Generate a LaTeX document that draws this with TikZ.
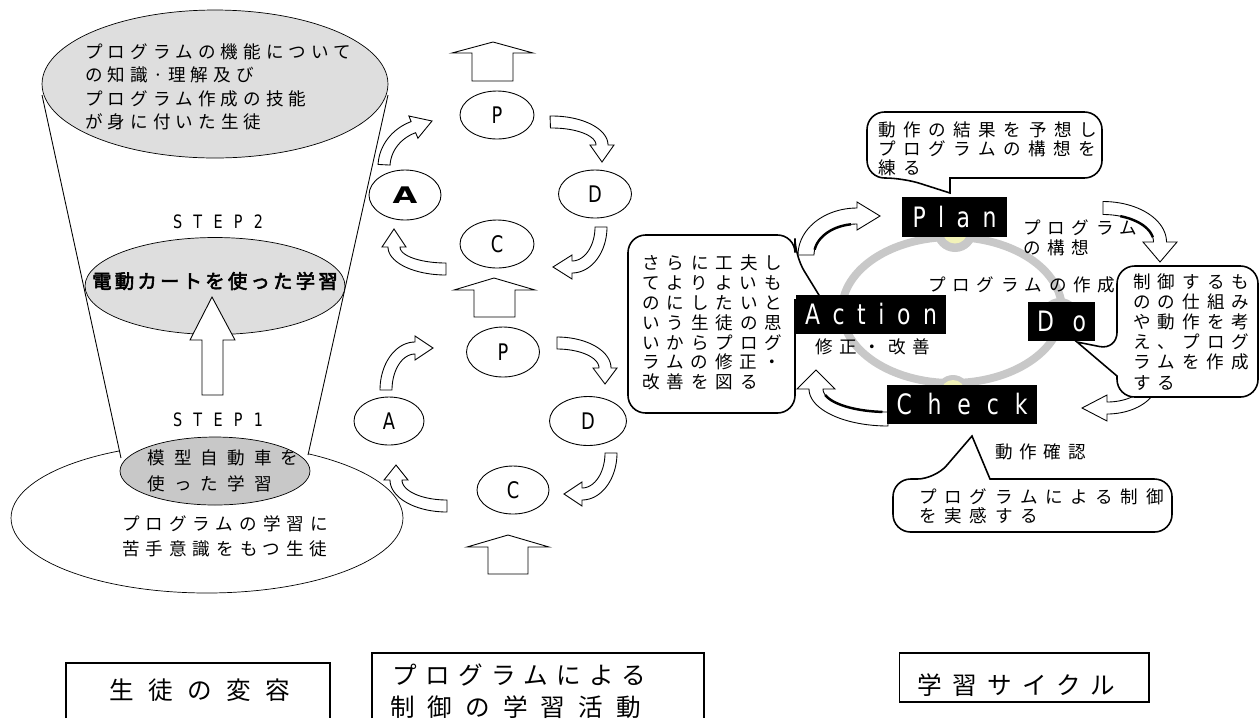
\documentclass[tikz,border=0pt]{standalone}
\usepackage{fontspec}
\usepackage{graphicx}
\usetikzlibrary{shapes.geometric}
\newfontfamily\jp{Noto Sans CJK JP}
\newfontfamily\jpb[FakeBold=3]{Noto Sans CJK JP}
\newfontfamily\nar[FakeStretch=0.78]{DejaVu Sans}
\newfontfamily\dv{DejaVu Sans}
\newcommand\jf[3]{\jp\fontsize{#1}{#2}\selectfont\addfontfeature{LetterSpace=#3}}
\newcommand\carr[9]{%
 \filldraw[arr] plot[domain=#5:#6,samples=25] ({#1+(#3+#8)*cos(\x)},{#2+(#4+#8)*sin(\x)})
   -- ({#1+(#3+#9)*cos(#6)},{#2+(#4+#9)*sin(#6)}) -- #7
   -- ({#1+(#3-#9)*cos(#6)},{#2+(#4-#9)*sin(#6)})
   -- plot[domain=#6:#5,samples=25] ({#1+(#3-#8)*cos(\x)},{#2+(#4-#8)*sin(\x)}) -- cycle;}
\newcommand\cinner[6]{%
 \draw[line width=1.4pt] plot[domain=#5:#6,samples=25] ({#1+(#3)*cos(\x)},{#2+(#4)*sin(\x)});}
\definecolor{lg}{HTML}{DEDEDE}
\definecolor{mg}{HTML}{C8C8C8}
\definecolor{ringc}{HTML}{C8C8C8}
\definecolor{kyel}{HTML}{F2F2B8}
\tikzset{
 jt/.style={inner sep=0, align=left, anchor=west},
 cyc/.style={draw, ellipse, inner sep=0, line width=0.5pt, font=\nar\fontsize{13}{13}\selectfont},
 blk/.style={fill=black, text=white, inner sep=0, font=\nar\fontsize{16}{16}\selectfont},
 call/.style={draw, fill=white, line width=0.9pt},
 arr/.style={draw, fill=white, line width=0.5pt},
 ubar/.style={draw, fill=white, line width=0.5pt},
 lab/.style={draw, line width=0.6pt}
}
\begin{document}
\begin{tikzpicture}[x=0.02cm,y=-0.02cm]
\useasboundingbox (0,0) rectangle (1260,718);
% ---------------- left: student change ----------------
\node[draw, fill=white, ellipse, inner sep=0, minimum width=7.84cm, minimum height=3cm] (base) at (207,518) {};
\coordinate (cl1) at (42,95); \coordinate (cl2) at (121,458);
\coordinate (cr1) at (388,95); \coordinate (cr2) at (308,455);
\fill[white] (cl1) -- (cl2) -- (215,480) -- (cr2) -- (cr1) -- cycle;
\draw[line width=0.5pt] (cl1) -- (cl2);
\draw[line width=0.5pt] (cr1) -- (cr2);
\node[draw, fill=lg, ellipse, inner sep=0, minimum width=6.92cm, minimum height=2.96cm] (top) at (215,84) {};
\node[draw, fill=lg, ellipse, inner sep=0, minimum width=5.2cm, minimum height=1.94cm] (s2) at (215,286) {};
\node[draw, fill=mg, ellipse, inner sep=0, minimum width=3.8cm, minimum height=1.36cm] (s1) at (215,471) {};
\draw[ubar] (202,395) -- (202,340) -- (190,340) -- (212,297) -- (235,340) -- (223,340) -- (223,395) -- cycle;
\node[jt, font=\jf{10}{13.4}{29}] (toptxt) at (85,87) {プログラムの機能について\\の知識·理解及び\\プログラム作成の技能\\が身に付いた生徒};
\node[inner sep=0, font=\nar\fontsize{10.5}{10.5}\selectfont] (step2) at (218,222) {\makebox[1.8cm][s]{S\hfill T\hfill E\hfill P\hfill 2}};
\node[inner sep=0, font=\jpb\fontsize{11}{11}\selectfont\addfontfeature{LetterSpace=17}] (s2txt) at (215,281) {電動カートを使った学習};
\node[inner sep=0, font=\nar\fontsize{10.5}{10.5}\selectfont] (step1) at (218,420) {\makebox[1.8cm][s]{S\hfill T\hfill E\hfill P\hfill 1}};
\node[jt, font=\jf{10}{14.6}{52}] (s1txt) at (147,471) {模型自動車を\\使った学習};
\node[jt, font=\jf{10}{14.2}{34}] (basetxt) at (122,536) {プログラムの学習に\\苦手意識をもつ生徒};
% ---------------- middle: PDCA ----------------
\draw[ubar] (472,81) -- (472,53) -- (452,53) -- (493,42) -- (533,53) -- (513,53) -- (513,81) -- cycle;
\draw[ubar] (474,317) -- (474,290) -- (454,290) -- (494,278) -- (535,290) -- (515,290) -- (515,317) -- cycle;
\draw[ubar] (488,574) -- (488,547) -- (467,547) -- (508,535) -- (549,547) -- (528,547) -- (528,574) -- cycle;
\node[cyc, minimum width=1.48cm, minimum height=0.96cm] (P1) at (497,115) {P};
\node[cyc, minimum width=1.44cm, minimum height=1.0cm] (A1) at (405,195) {\dv\bfseries\fontsize{13}{13}\selectfont\scalebox{1.4}[1]{A}};
\node[cyc, minimum width=1.46cm, minimum height=0.96cm] (D1) at (595,194) {D};
\node[cyc, minimum width=1.48cm, minimum height=0.96cm] (C1) at (497,244) {C};
\node[cyc, minimum width=1.46cm, minimum height=1.0cm] (P2) at (503,352) {P};
\node[cyc, minimum width=1.40cm, minimum height=0.96cm] (A2) at (389,421) {A};
\node[cyc, minimum width=1.54cm, minimum height=0.98cm] (D2) at (588,421) {D};
\node[cyc, minimum width=1.44cm, minimum height=0.96cm] (C2) at (513,490) {C};
\carr{431}{167}{47}{43}{183}{248}{(432,121)}{6}{12}
\carr{552}{145}{50}{23}{268}{360}{(602,162)}{6}{12}
\carr{572}{227}{29}{40}{0}{90}{(553,267)}{6}{12}
\carr{446}{247}{52}{22}{90}{180}{(394,229)}{6}{12}
\carr{415}{390}{29}{42}{180}{270}{(433,348)}{6}{12}
\carr{557}{368}{48}{25}{270}{360}{(605,384)}{6}{12}
\carr{582}{453}{29}{41}{0}{90}{(564,494)}{6}{12}
\carr{447}{480}{51}{26}{90}{180}{(396,465)}{6}{12}
% ---------------- right: learning cycle ----------------
\node[draw=ringc, line width=4.5pt, ellipse, inner sep=0, minimum width=4.4cm, minimum height=2.92cm] (ring) at (952,310) {};
\node[circle, fill=ringc, inner sep=0, minimum size=0.84cm] (k1) at (955,231) {};
\node[circle, fill=kyel, inner sep=0, minimum size=0.5cm] (k1y) at (955,231) {};
\node[circle, fill=ringc, inner sep=0, minimum size=0.68cm] (k2) at (953,392) {};
\node[circle, fill=kyel, inner sep=0, minimum size=0.48cm] (k2y) at (953,392) {};
\node[circle, fill=ringc, inner sep=0, minimum size=0.8cm] (k3) at (1060,318) {};
% callouts
\draw[call] (950,178) [rounded corners=10] -- (1102,178) -- (1102,112) -- (867,112) -- (867,178) -- (903,178) [sharp corners] -- (950,193) -- cycle;
\draw[call] (795,300) [rounded corners=10] -- (795,413) -- (628,413) -- (628,235) -- (795,235) -- (795,256) [sharp corners] -- (822,300) -- cycle;
\draw[call] (990,479) [rounded corners=10] -- (1172,479) -- (1172,532) -- (893,532) -- (893,479) -- (935,479) [sharp corners] -- (972,436) -- cycle;
% cycle arrows
\carr{857}{255}{51}{39}{180}{270}{(880,216)}{8}{14}
\cinner{857}{255}{43}{31}{190}{262}
\carr{1103}{242}{57}{34}{270}{360}{(1160,262)}{6.5}{17}
\cinner{1103}{242}{50.5}{27.5}{290}{350}
\carr{1107}{380}{45}{28}{0}{90}{(1082,408)}{6}{13}
\carr{888}{389}{72}{30}{90}{180}{(816,370)}{7}{19}
\cinner{888}{389}{65}{23}{95}{165}
\draw[call] (1117,376) [rounded corners=10] -- (1117,397) -- (1258,397) -- (1258,266) -- (1117,266) -- (1117,350) [sharp corners] -- (1077,342) -- cycle;
% black labels
\node[blk, minimum width=2.1cm, minimum height=0.8cm] (plan) at (954.5,217) {\makebox[1.68cm][s]{P\hfill l\hfill a\hfill n}};
\node[blk, minimum width=3.0cm, minimum height=0.78cm] (action) at (871,314.5) {\makebox[2.64cm][s]{A\hfill c\hfill t\hfill i\hfill o\hfill n}};
\node[blk, minimum width=1.34cm, minimum height=0.78cm] (do) at (1061.5,321.5) {\makebox[0.98cm][s]{D\hfill o}};
\node[blk, minimum width=3.0cm, minimum height=0.78cm] (check) at (962,404.5) {\makebox[2.62cm][s]{C\hfill h\hfill e\hfill c\hfill k}};
% texts
\node[jt, font=\jf{10}{10.8}{43}] (ctop) at (878,149) {動作の結果を予想し\\プログラムの構想を\\練る};
\node[jt, font=\jf{10}{11.3}{39}] (cleft) at (642,322.5) {さらに工夫し\\てよりよいも\\のにしたいと\\いう生徒の思\\いからプログ\\ラムの修正・\\改善を図る};
\node[jt, font=\jf{10}{11.4}{40}] (cdo) at (1133,332) {制御するも\\のの仕組み\\や動作を考\\え、プログ\\ラムを作成\\する};
\node[jt, font=\jf{10}{10.8}{44}] (ccheck) at (919,506.5) {プログラムによる制御\\を実感する};
\node[jt, font=\jf{10}{11.4}{38}] (kousou) at (1023,238) {プログラム\\の構想};
\node[jt, font=\jf{10}{11}{38}] (sakusei) at (928,285) {プログラムの作成};
\node[jt, font=\jf{10}{11}{38}] (shusei) at (815,347) {修正・改善};
\node[jt, font=\jf{10}{11}{38}] (kakunin) at (995,452) {動作確認};
% ---------------- bottom labels ----------------
\draw[lab] (66,718) -- (66,663) -- (330,663) -- (330,718);
\draw[lab] (372,718) -- (372,653) -- (704,653) -- (704,718);
\node[lab, inner sep=0, minimum width=5cm, minimum height=0.98cm] (lab3) at (1024,677.5) {};
\node[jt, font=\jf{14}{14}{59}] (l1) at (109,690) {生徒の変容};
\node[jt, font=\jf{14}{14}{34}] (l2a) at (392,675) {プログラムによる};
\node[jt, font=\jf{14}{14}{53}] (l2b) at (390,707) {制御の学習活動};
\node[jt, font=\jf{14}{14}{42}] (l3) at (917,685) {学習サイクル};
\end{tikzpicture}
\end{document}
